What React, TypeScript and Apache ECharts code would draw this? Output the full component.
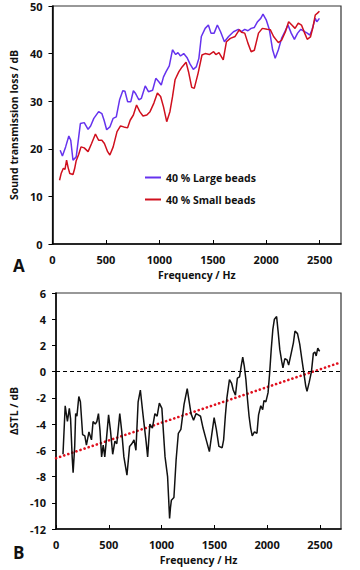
import React, { useEffect, useRef } from "react";
import * as echarts from "echarts";

// Panel A: sound transmission loss (dB) vs frequency (Hz)
const LARGE_FREQ = [72, 93, 123, 153, 171, 192, 222, 261, 297, 333, 357, 387, 432, 462, 483, 507, 537, 568, 597, 628, 658, 678, 703, 733, 757, 778, 808, 832, 868, 898, 937, 967, 995, 1018, 1039, 1063, 1093, 1123, 1153, 1174, 1198, 1228, 1258, 1288, 1318, 1345, 1370, 1393, 1429, 1459, 1483, 1513, 1543, 1573, 1609, 1648, 1694, 1739, 1769, 1799, 1829, 1859, 1889, 1919, 1949, 1970, 2000, 2030, 2060, 2084, 2114, 2144, 2174, 2204, 2234, 2264, 2294, 2324, 2360, 2384, 2408, 2429, 2459, 2474, 2498];
const LARGE_STL = [19.7, 18.5, 20.4, 22.7, 21.8, 17.6, 18.3, 25.3, 25.5, 24.1, 24.8, 26.4, 27.8, 27.4, 26.0, 24.0, 24.6, 26.4, 26.7, 30.3, 32.2, 32.1, 29.9, 29.9, 32.2, 31.6, 30.3, 30.6, 33.2, 32.0, 32.3, 34.8, 34.1, 33.4, 35.1, 36.2, 37.4, 40.8, 39.8, 40.2, 39.5, 40.0, 39.2, 37.8, 36.7, 37.2, 39.0, 43.6, 45.3, 46.0, 44.3, 44.3, 46.0, 44.6, 42.5, 43.6, 44.6, 45.1, 44.6, 45.1, 44.8, 45.3, 45.5, 46.7, 47.4, 48.3, 47.1, 45.0, 40.8, 39.0, 40.8, 43.2, 44.6, 46.0, 44.3, 43.0, 44.3, 45.1, 44.6, 44.3, 43.9, 45.0, 47.4, 46.7, 47.4];

const SMALL_FREQ = [66, 81, 102, 117, 132, 147, 162, 192, 207, 222, 245, 267, 297, 333, 366, 402, 432, 462, 486, 516, 537, 568, 604, 637, 667, 703, 727, 757, 787, 817, 847, 883, 913, 949, 982, 1012, 1039, 1069, 1099, 1123, 1147, 1183, 1213, 1250, 1273, 1303, 1327, 1363, 1399, 1429, 1468, 1508, 1529, 1558, 1598, 1628, 1664, 1709, 1748, 1769, 1799, 1829, 1859, 1889, 1928, 1964, 2009, 2039, 2069, 2114, 2144, 2180, 2210, 2240, 2270, 2300, 2330, 2360, 2384, 2414, 2438, 2459, 2480, 2498];
const SMALL_STL = [13.4, 14.8, 15.9, 15.7, 17.6, 16.0, 14.8, 14.6, 15.8, 17.5, 18.8, 20.4, 20.2, 19.4, 21.1, 23.1, 21.8, 21.8, 21.1, 19.4, 18.7, 20.4, 23.6, 24.8, 24.6, 24.4, 26.0, 27.1, 29.2, 27.8, 26.9, 27.1, 27.8, 29.6, 31.7, 31.0, 28.8, 25.7, 27.8, 30.9, 34.5, 36.2, 37.2, 38.2, 36.2, 32.9, 32.7, 35.9, 39.7, 40.0, 39.8, 40.4, 39.8, 40.2, 38.7, 42.5, 43.2, 43.6, 45.0, 44.5, 44.3, 42.2, 40.4, 40.7, 44.3, 45.3, 45.1, 45.0, 43.6, 42.3, 42.8, 44.6, 46.7, 46.0, 45.3, 46.4, 46.0, 44.3, 43.0, 43.5, 45.6, 48.1, 48.5, 48.9];

// Panel B: ΔSTL (dB) vs frequency (Hz)
const DELTA_FREQ = [66, 87, 108, 126, 138, 153, 162, 177, 186, 198, 216, 231, 252, 273, 288, 312, 336, 351, 372, 387, 402, 417, 432, 447, 462, 477, 498, 516, 537, 558, 576, 604, 622, 643, 672, 697, 718, 739, 757, 778, 799, 823, 853, 868, 889, 913, 937, 958, 979, 1003, 1033, 1057, 1066, 1076, 1084, 1093, 1117, 1138, 1159, 1183, 1213, 1243, 1258, 1279, 1303, 1327, 1348, 1369, 1393, 1423, 1453, 1477, 1498, 1519, 1543, 1574, 1588, 1604, 1619, 1643, 1664, 1679, 1700, 1718, 1739, 1754, 1769, 1784, 1799, 1814, 1829, 1844, 1859, 1880, 1904, 1919, 1940, 1958, 1970, 1988, 2009, 2024, 2039, 2054, 2069, 2090, 2105, 2120, 2138, 2150, 2168, 2189, 2204, 2228, 2249, 2264, 2288, 2309, 2330, 2348, 2366, 2378, 2399, 2420, 2438, 2453, 2465, 2480, 2498];
const DELTA_STL = [-6.3, -2.6, -3.8, -2.8, -3.6, -6.5, -7.7, -5.7, -3.2, -3.4, -1.9, -2.3, -4.8, -4.9, -5.6, -4.6, -5.2, -3.8, -4.0, -3.8, -3.2, -4.5, -6.5, -5.6, -6.5, -5.2, -3.3, -4.5, -6.3, -5.3, -5.5, -3.2, -4.5, -6.5, -7.9, -5.7, -5.5, -5.2, -6.0, -2.3, -1.4, -3.2, -5.3, -6.5, -4.0, -4.3, -3.2, -3.4, -2.4, -2.8, -6.5, -8.0, -9.5, -11.2, -10.4, -9.8, -9.6, -6.7, -4.7, -4.4, -2.5, -1.3, -2.1, -3.2, -3.7, -3.2, -3.3, -3.4, -4.3, -5.2, -6.1, -4.7, -3.5, -4.4, -5.7, -5.8, -5.2, -3.4, -2.0, -0.6, -0.9, -1.4, -1.8, -0.5, -0.4, 0.4, 1.1, 0.4, -0.6, -2.1, -3.4, -4.3, -4.9, -4.6, -4.7, -3.3, -2.6, -2.9, -2.2, -2.3, -1.6, -0.1, 1.7, 3.2, 4.0, 4.2, 3.0, 1.7, 0.8, 0.3, 1.0, 0.9, 0.5, 1.4, 2.2, 3.1, 2.9, 2.1, 0.9, -0.1, -1.1, -1.5, -0.8, 0.0, 1.4, 1.5, 1.2, 1.8, 1.55];

// Linear trend of ΔSTL (end points)
const TREND_FREQ = [0, 2700];
const TREND_STL = [-6.6, 0.72];

const SERIES_NAMES = ["40 % Large beads", "40 % Small beads"];
const X_LABEL = "Frequency / Hz";
const Y_LABEL_A = "Sound transmission loss / dB";
const Y_LABEL_B = "ΔSTL / dB";
const PANEL_LETTERS = ["A", "B"];

const FONT = "'Open Sans', 'Liberation Sans', sans-serif";
const pairs = (xs: number[], ys: number[]) => xs.map((x, i) => [x, ys[i]]);

export default function App() {
  const ref = useRef<HTMLDivElement>(null);
  useEffect(() => {
    if (!ref.current) return;
    const chart = echarts.init(ref.current, null, { renderer: "svg" });
    const labelStyle = { color: "#111", fontWeight: "bold" as const, fontSize: 11, fontFamily: FONT };
    const nameStyle = { color: "#111", fontWeight: "bold" as const, fontSize: 10.5, fontFamily: FONT };
    const axisLine = { show: true, onZero: false, lineStyle: { color: "#000", width: 1.5 } };
    const xAxisBase = (gridIndex: number, margin: number, nameGap: number) => ({
      type: "value" as const,
      gridIndex,
      min: 0,
      max: 2700,
      interval: 500,
      name: X_LABEL,
      nameLocation: "middle" as const,
      nameGap,
      nameTextStyle: nameStyle,
      axisLine,
      axisTick: { show: true, inside: true, length: 4, lineStyle: { color: "#000", width: 1 } },
      axisLabel: { ...labelStyle, margin, showMaxLabel: false, formatter: (v: number) => (v > 2500 ? "" : String(v)) },
      splitLine: { show: false },
    });
    chart.setOption({
      animation: false,
      grid: [
        { left: 42, top: 6, right: 19, bottom: 326, show: true, borderColor: "#333", borderWidth: 1.2, backgroundColor: "transparent" },
        { left: 42, top: 293, right: 19, bottom: 41, show: true, borderColor: "#333", borderWidth: 1.2, backgroundColor: "transparent" },
      ],
      xAxis: [xAxisBase(0, 10, 25), xAxisBase(1, 10, 25)],
      yAxis: [
        {
          type: "value",
          gridIndex: 0,
          min: 0,
          max: 50,
          interval: 10,
          name: Y_LABEL_A,
          nameLocation: "middle",
          nameGap: 25,
          nameTextStyle: nameStyle,
          axisLine,
          axisTick: { show: true, inside: false, length: 4, lineStyle: { color: "#000", width: 1 } },
          axisLabel: { ...labelStyle, margin: 10 },
          splitLine: { show: false },
        },
        {
          type: "value",
          gridIndex: 1,
          min: -12,
          max: 6,
          interval: 2,
          name: Y_LABEL_B,
          nameLocation: "middle",
          nameGap: 25,
          nameTextStyle: nameStyle,
          axisLine,
          axisTick: { show: true, inside: false, length: 4, lineStyle: { color: "#000", width: 1 } },
          axisLabel: { ...labelStyle, margin: 10 },
          splitLine: { show: false },
        },
      ],
      legend: {
        data: SERIES_NAMES,
        orient: "vertical",
        left: 140,
        top: 167,
        itemWidth: 16,
        itemHeight: 2,
        itemGap: 11,
        icon: "rect",
        textStyle: { ...labelStyle, fontSize: 10.5 },
      },
      series: [
        {
          name: SERIES_NAMES[0],
          type: "line",
          xAxisIndex: 0,
          yAxisIndex: 0,
          data: pairs(LARGE_FREQ, LARGE_STL),
          showSymbol: false,
          color: "#6633ee",
          lineStyle: { color: "#6633ee", width: 1.5 },
        },
        {
          name: SERIES_NAMES[1],
          type: "line",
          xAxisIndex: 0,
          yAxisIndex: 0,
          data: pairs(SMALL_FREQ, SMALL_STL),
          showSymbol: false,
          color: "#d0101e",
          lineStyle: { color: "#d0101e", width: 1.5 },
        },
        {
          name: "ΔSTL",
          type: "line",
          xAxisIndex: 1,
          yAxisIndex: 1,
          data: pairs(DELTA_FREQ, DELTA_STL),
          showSymbol: false,
          lineStyle: { color: "#111", width: 1.5 },
          markLine: {
            silent: true,
            symbol: "none",
            label: { show: false },
            lineStyle: { color: "#000", type: [4, 3], width: 1.2 },
            data: [{ yAxis: 0 }],
          },
          z: 3,
        },
        {
          name: "trend",
          type: "line",
          xAxisIndex: 1,
          yAxisIndex: 1,
          data: pairs(TREND_FREQ, TREND_STL),
          showSymbol: false,
          lineStyle: { color: "#e0101e", width: 2.6, type: [0.1, 4.2], cap: "round" },
          z: 2,
        },
      ],
      graphic: [
        { type: "text", left: 13, top: 257, style: { text: PANEL_LETTERS[0], font: `bold 17px ${FONT}`, fill: "#111" } },
        { type: "text", left: 13, top: 544, style: { text: PANEL_LETTERS[1], font: `bold 17px ${FONT}`, fill: "#111" } },
      ],
    });
    return () => chart.dispose();
  }, []);
  return <div ref={ref} style={{ position: "fixed", left: 0, top: 0, width: 360, height: 570, background: "#fff" }} />;
}
